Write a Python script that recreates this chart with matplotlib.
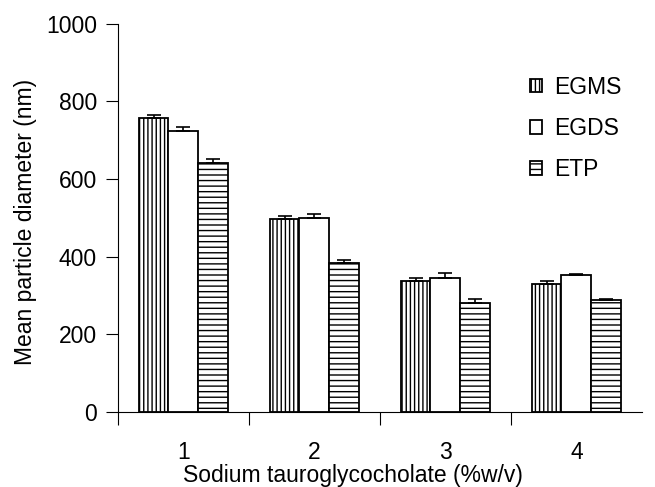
import matplotlib.pyplot as plt
import numpy as np

plt.rcParams['font.family'] = ['Liberation Sans', 'DejaVu Sans']
plt.rcParams['hatch.linewidth'] = 1.0

categories = ['1', '2', '3', '4']
series = ['EGMS', 'EGDS', 'ETP']
egms = [758, 497, 337, 330]
egds = [724, 500, 346, 352]
etp = [642, 384, 281, 288]
egms_err = [7, 9, 7, 8]
egds_err = [10, 10, 11, 4]
etp_err = [11, 8, 10, 3]

values = [egms, egds, etp]
errors = [egms_err, egds_err, etp_err]
hatches = ['||||', '', '---']

fig = plt.figure(figsize=(6.55, 4.87), dpi=100)
ax = fig.add_axes([0.180, 0.154, 0.800, 0.797])

x = np.arange(1, len(categories) + 1)
w = 0.228
for i, (vals, errs, h, name) in enumerate(zip(values, errors, hatches, series)):
    pos = x + (i - 1) * w
    ax.bar(pos, vals, w, color='white', edgecolor='black', hatch=h,
           linewidth=1.3, label=name, zorder=2)
    ax.errorbar(pos, vals, yerr=[np.zeros(len(errs)), errs], fmt='none',
                ecolor='black', elinewidth=1.2, capsize=4.7, capthick=1.2, zorder=3)

ax.set_xlim(0.5, 4.5)
ax.set_ylim(0, 1000)
ax.set_yticks([0, 200, 400, 600, 800, 1000])
ax.set_xticks(np.arange(0.5, 4.5, 1.0))
ax.set_xticklabels([])
ax.set_xticks(x, minor=True)
ax.set_xticklabels(categories, minor=True)
ax.tick_params(axis='x', which='major', length=9, direction='out')
ax.tick_params(axis='x', which='minor', length=0, pad=21, labelsize=16.5)
ax.tick_params(axis='y', length=9, direction='out', labelsize=16.5, pad=6)

for s in ['top', 'right']:
    ax.spines[s].set_visible(False)

ax.set_xlabel('Sodium tauroglycocholate (%w/v)', fontsize=16.5)
ax.xaxis.set_label_coords(0.448, -0.135)
ax.set_ylabel('Mean particle diameter (nm)', fontsize=16.5)
ax.yaxis.set_label_coords(-0.154, 0.49)

ax.legend(loc='upper right', bbox_to_anchor=(1.0, 0.92), frameon=False,
          fontsize=16.5, handlelength=0.55, handleheight=0.55, handletextpad=0.5,
          labelspacing=0.8)

fig.savefig('out.png', dpi=100)
